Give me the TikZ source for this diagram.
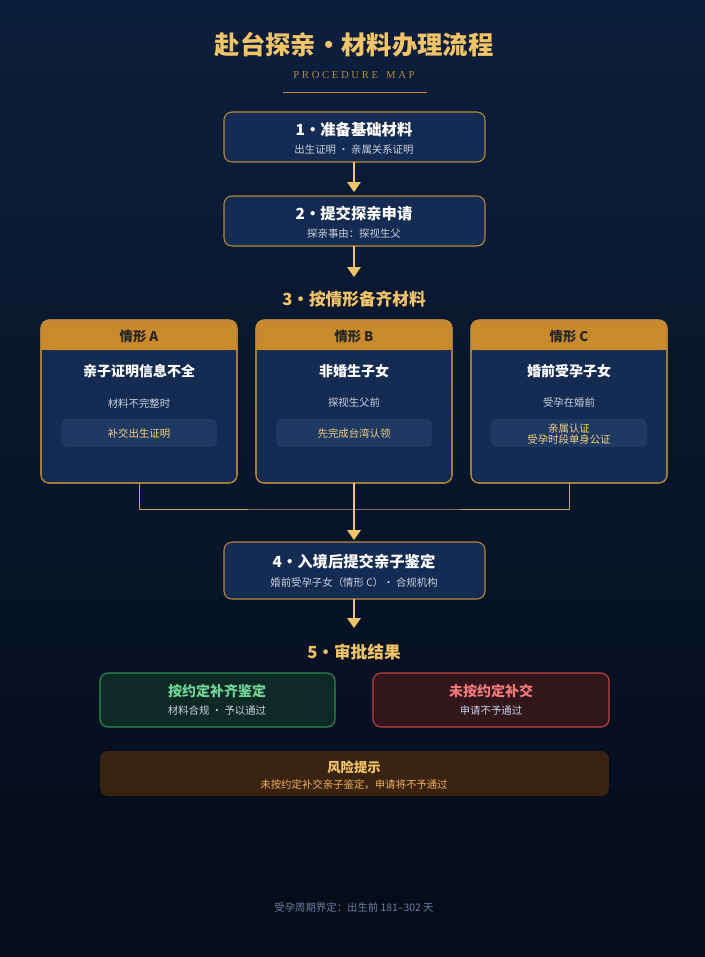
\documentclass[tikz,border=0pt]{standalone}
\usepackage{fontspec}
\setmainfont{Noto Sans CJK SC}
\newfontfamily\serifmap{Liberation Serif}
\usetikzlibrary{calc}
\definecolor{bgtop}{HTML}{0C1F3C}
\definecolor{bgbot}{HTML}{050B18}
\definecolor{gold}{HTML}{F2C46A}
\definecolor{goldline}{HTML}{B8893E}
\definecolor{boxfill}{HTML}{142B52}
\definecolor{hdr}{HTML}{C98A2E}
\definecolor{inner}{HTML}{1F3A62}
\definecolor{subtxt}{HTML}{C8D2E2}
\definecolor{okfill}{HTML}{0F2A24}
\definecolor{okline}{HTML}{2F8A5C}
\definecolor{oktxt}{HTML}{6FD39A}
\definecolor{nofill}{HTML}{32161C}
\definecolor{noline}{HTML}{C04545}
\definecolor{notxt}{HTML}{F07A7A}
\definecolor{riskfill}{HTML}{3B2312}
\definecolor{risktxt}{HTML}{E9B060}
\definecolor{foottxt}{HTML}{6A7F9F}
\tikzset{
  stepbox/.style={draw=goldline, fill=boxfill, rounded corners=6pt, line width=0.8pt},
  ttl/.style={text=white, font=\bfseries\fontsize{11.5}{13}\selectfont},
  sub/.style={text=subtxt, font=\fontsize{7.8}{9}\selectfont},
  flow/.style={draw=gold, line width=0.8pt},
  tip/.style={fill=gold, draw=none},
}
\begin{document}
\begin{tikzpicture}[x=0.75pt, y=-0.75pt]
    % background
    \shade[top color=bgtop, bottom color=bgbot] (0,0) rectangle (705,957);
    \useasboundingbox (0,0) rectangle (705,957);
    % heading
    \node (title) [text=gold, font=\bfseries\fontsize{19}{21}\selectfont] at (354,45) {赴台探亲・材料办理流程};
    \node (map) [text=goldline, font=\serifmap\fontsize{8}{9}\selectfont] at (354,75) {P R O C E D U R E \ \ M A P};
    \draw[goldline, line width=0.6pt] (283,92) -- (427,92);
    % step 1 and 2
    \draw[stepbox] (224,112) rectangle (485,162);
    \node (s1) [ttl] at (354,130) {1・准备基础材料};
    \node (s1b) [sub] at (354,150) {出生证明 · 亲属关系证明};
    \draw[stepbox] (224,196) rectangle (485,246);
    \node (s2) [ttl] at (354,214) {2・提交探亲申请};
    \node (s2b) [sub] at (354,234) {探亲事由：探视生父};
    \coordinate (a1) at (354,162); \coordinate (a1e) at (354,192);
    \coordinate (a2) at (354,246); \coordinate (a2e) at (354,277);
    \draw[flow] (a1) -- ($(a1e)+(0,-8)$);
    \fill[tip] (a1e) -- ++(-7,-10) -- ++(14,0) -- cycle;
    \draw[flow] (a2) -- ($(a2e)+(0,-8)$);
    \fill[tip] (a2e) -- ++(-7,-10) -- ++(14,0) -- cycle;
    \node (s3) [text=gold, font=\bfseries\fontsize{12.5}{14}\selectfont] at (354,299) {3・按情形备齐材料};
    % three cards
    \foreach \x/\k/\t/\s/\r in {41/A/亲子证明信息不全/材料不完整时/补交出生证明,
                                256/B/非婚生子女/探视生父前/先完成台湾认领,
                                471/C/婚前受孕子女/受孕在婚前/{亲属认证\\受孕时段单身公证}} {
      \draw[stepbox] (\x,320) rectangle ++(196,163);
      \fill[hdr, rounded corners=6pt] (\x,320) rectangle ++(196,30);
      \fill[hdr] (\x,338) rectangle ++(196,12);
      \draw[goldline, line width=0.8pt, rounded corners=6pt] (\x,320) rectangle ++(196,163);
      \node (h\k) [text=black!85, font=\bfseries\fontsize{10}{11}\selectfont] at (\x+98,336) {情形 \k};
      \node (t\k) [ttl, font=\bfseries\fontsize{10.5}{12}\selectfont] at (\x+98,371) {\t};
      \node (d\k) [sub] at (\x+98,403) {\s};
      \fill[inner, rounded corners=4pt] (\x+20,419) rectangle ++(156,28);
      \node (r\k) [text=gold!85!white, align=center, font=\fontsize{7.8}{8.5}\selectfont] at (\x+98,434) {\r};
      \coordinate (b\k) at (\x+98,483);
    }
    % merge
    \draw[goldline!80!white, line width=0.6pt] (bA) |- (354,509) -| (bC);
    \coordinate (a3e) at (354,540);
    \draw[flow] (bB) -- ($(a3e)+(0,-8)$);
    \fill[tip] (a3e) -- ++(-7,-10) -- ++(14,0) -- cycle;
    % step 4
    \draw[stepbox] (224,542) rectangle (485,599);
    \node (s4) [ttl] at (354,562) {4・入境后提交亲子鉴定};
    \node (s4b) [sub] at (354,583) {婚前受孕子女（情形 C）· 合规机构};
    \coordinate (a4) at (354,599); \coordinate (a4e) at (354,628);
    \draw[flow] (a4) -- ($(a4e)+(0,-8)$);
    \fill[tip] (a4e) -- ++(-7,-10) -- ++(14,0) -- cycle;
    \node (s5) [text=gold, font=\bfseries\fontsize{12.5}{14}\selectfont] at (354,652) {5・审批结果};
    % results
    \draw[fill=okfill, draw=okline, rounded corners=6pt, line width=0.8pt] (100,673) rectangle (335,727);
    \node (ok) [text=oktxt, font=\bfseries\fontsize{10.5}{12}\selectfont] at (217,691) {按约定补齐鉴定};
    \node (okb) [sub] at (217,711) {材料合规 · 予以通过};
    \draw[fill=nofill, draw=noline, rounded corners=6pt, line width=0.8pt] (373,673) rectangle (609,727);
    \node (no) [text=notxt, font=\bfseries\fontsize{10.5}{12}\selectfont] at (491,691) {未按约定补交};
    \node (nob) [sub] at (491,711) {申请不予通过};
    % risk
    \fill[riskfill, rounded corners=6pt] (100,751) rectangle (609,796);
    \node (risk) [text=gold, font=\bfseries\fontsize{10}{11}\selectfont] at (354,767) {风险提示};
    \node (riskb) [text=risktxt, font=\fontsize{7.8}{9}\selectfont] at (354,785) {未按约定补交亲子鉴定，申请将不予通过};
    % footer
    \node (foot) [text=foottxt, font=\fontsize{7.8}{9}\selectfont] at (354,908) {受孕周期界定：出生前 181–302 天};
\end{tikzpicture}
\end{document}
